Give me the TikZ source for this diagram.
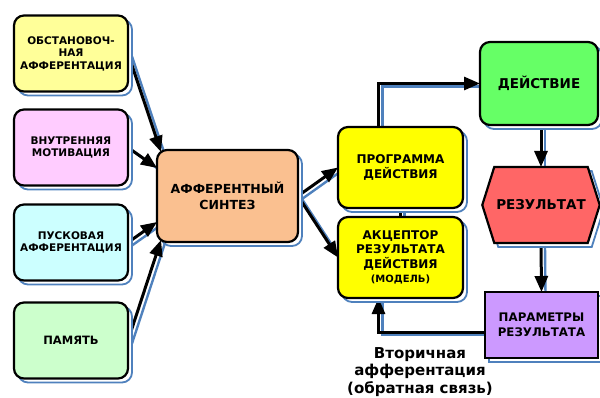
\documentclass[tikz,border=0pt]{standalone}
\usepackage{fontspec}
\setmainfont{DejaVu Sans}
\usetikzlibrary{positioning,calc,shapes.symbols,shadows,arrows.meta}
\definecolor{myyellowi}{RGB}{255,255,153}
\definecolor{myyellowii}{RGB}{255,255,0}
\definecolor{mypink}{RGB}{255,204,255}
\definecolor{mycyan}{RGB}{204,255,255}
\definecolor{mygreeni}{RGB}{204,255,204}
\definecolor{mygreenii}{RGB}{102,255,102}
\definecolor{myorange}{RGB}{250,192,144}
\definecolor{myred}{RGB}{255,102,102}
\definecolor{mypurple}{RGB}{204,153,255}
\definecolor{myshadow}{RGB}{79,129,189}
\pgfdeclarelayer{background}
\pgfsetlayers{background,main}
\tikzset{
  schemepic/.style={
    x=1pt,y=-1pt
    ,inner sep=2pt
    ,outer sep=0pt
  }
  ,bshadow/.style={copy shadow={shadow xshift=4pt,shadow yshift=-4pt
    ,fill=white,draw=myshadow,line width=1.8pt}}
  ,block/.style={bshadow
    ,draw=black,line width=2.2pt
    ,rounded corners=10pt
    ,align=center
    ,font=\bfseries\fontsize{12}{14.5}\selectfont
  }
  ,inbox/.style={block,minimum width=114pt,minimum height=76pt
    ,font=\bfseries\fontsize{10.5}{12.5}\selectfont}
  ,midbox/.style={block,fill=myyellowii,minimum width=125pt,minimum height=81pt}
  ,outbox/.style={block,minimum width=118pt,minimum height=83pt}
  ,link/.style={line width=3pt
    ,-{Triangle[length=16pt,width=13pt]}
    ,preaction={draw=myshadow,line width=2.4pt,-
      ,transform canvas={shift={(4pt,-3pt)}}}
  }
  ,plainlink/.style={link,-}
  ,notetext/.style={align=center,font=\bfseries\fontsize{15}{17.5}\selectfont}
}

\begin{document}
\begin{tikzpicture}[schemepic]
  \useasboundingbox (0,0) rectangle (600,398);
  % inputs
  \node[inbox,fill=myyellowi] (obst) at (71,53.5) {ОБСТАНОВОЧ-\\НАЯ\\АФФЕРЕНТАЦИЯ};
  \node[inbox,fill=mypink] (motiv) at (71,147.5) {ВНУТРЕННЯЯ\\МОТИВАЦИЯ};
  \node[inbox,fill=mycyan] (pusk) at (71,242.5) {ПУСКОВАЯ\\АФФЕРЕНТАЦИЯ};
  \node[inbox,fill=mygreeni,font=\bfseries\fontsize{11.5}{13}\selectfont] (mem) at (71,340.5) {ПАМЯТЬ};
  % synthesis
  \node[block,fill=myorange,minimum width=141pt,minimum height=92pt
    ,font=\bfseries\fontsize{12.5}{15.5}\selectfont] (synth) at (227.5,196) {АФФЕРЕНТНЫЙ\\СИНТЕЗ};
  \node[midbox] (prog) at (400.5,167.5) {ПРОГРАММА\\ДЕЙСТВИЯ};
  \node[midbox] (akc) at (400.5,257.5)
    {АКЦЕПТОР\\РЕЗУЛЬТАТА\\ДЕЙСТВИЯ\\{\fontsize{10}{12}\selectfont(МОДЕЛЬ)}};
  % right column
  \node[outbox,fill=mygreenii,font=\bfseries\fontsize{13.5}{16}\selectfont] (act) at (539,83.5) {ДЕЙСТВИЕ};
  \node[block,fill=myred,sharp corners,shape=signal,signal to=east and west
    ,signal pointer angle=145,minimum width=112pt,minimum height=76pt
    ,font=\bfseries\fontsize{13.5}{16}\selectfont] (res) at (541,205) {РЕЗУЛЬТАТ};
  \node[block,fill=mypurple,sharp corners,minimum width=113pt,minimum height=66pt
    ,font=\bfseries\fontsize{11.8}{14.5}\selectfont] (param) at (541.5,325) {ПАРАМЕТРЫ\\РЕЗУЛЬТАТА};
  \node[notetext] (note) at (420,372) {Вторичная\\афферентация\\(обратная связь)};
  \begin{pgfonlayer}{background}
    \draw[link] (obst.east) -- ([shift={(4pt,-2pt)}]synth.north west);
    \draw[link] (motiv.east) -- ([yshift=28pt]synth.west);
    \draw[link] (pusk.east) -- ([yshift=-26pt]synth.west);
    \draw[link] (mem.east) -- ([shift={(4pt,2pt)}]synth.south west);
    \draw[link] (synth.east) -- (prog.west);
    \draw[link] (synth.east) -- (akc.west);
    \draw[plainlink] (prog.south) -- (akc.north);
    \draw[link] ([xshift=-22pt]prog.north) |- (act.west);
    \draw[link] (act.south -| res.north) -- (res.north);
    \draw[link] (res.south) -- (param.north);
    \draw[link] ([yshift=-7pt]param.west) -| ([xshift=-22pt]akc.south);
  \end{pgfonlayer}
\end{tikzpicture}
\end{document}
